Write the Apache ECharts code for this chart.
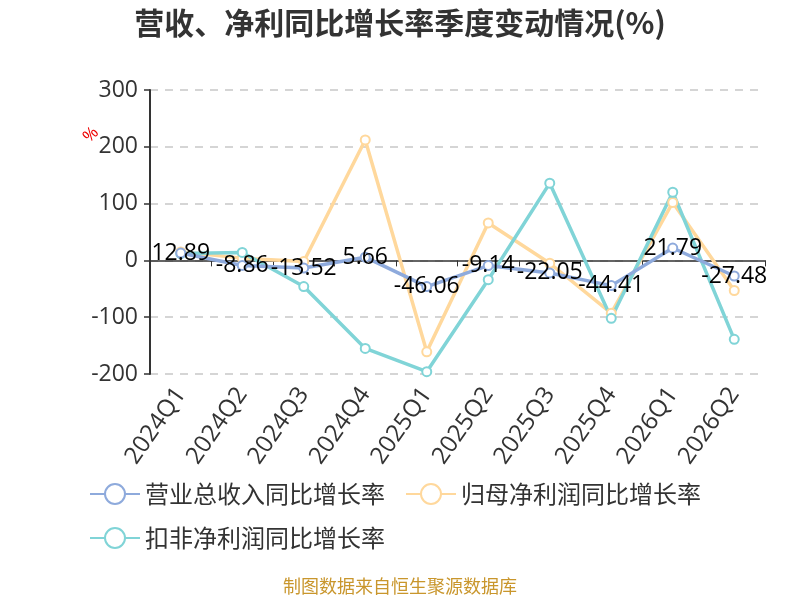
<!DOCTYPE html>
<html>
<head>
<meta charset="utf-8">
<style>
    html, body { margin: 0; padding: 0; background: #fff; }
    #chart { width: 800px; height: 600px; }
</style>
<script src="https://cdn.jsdelivr.net/npm/echarts@6/dist/echarts.min.js"></script>
</head>
<body>
<div id="chart"></div>
<script>
"use strict"

// 季度
var quarters = ["2024Q1", "2024Q2", "2024Q3", "2024Q4", "2025Q1", "2025Q2", "2025Q3", "2025Q4", "2026Q1", "2026Q2"];
// 营业总收入同比增长率
var revenueYoy = [12.89, -8.86, -13.52, 5.66, -46.06, -9.14, -22.05, -44.41, 21.79, -27.48];
// 归母净利润同比增长率
var netProfitYoy = [15, 4, -2, 212, -161, 66, -5, -93, 102, -53];
// 扣非净利润同比增长率
var deductedYoy = [12, 14, -46, -155, -196, -34, 136, -102, 120, -139];
// y轴刻度
var yMin = -200, yMax = 300, yStep = 100;

var seriesNames = ["营业总收入同比增长率", "归母净利润同比增长率", "扣非净利润同比增长率"];
var colors = ["#8eaadc", "#ffd89c", "#80d4d7"];
var font = "'Open Sans', 'Noto Sans CJK SC', sans-serif";

var myChart = echarts.init(document.getElementById("chart"));

function lineSeries(name, data, color, withLabel) {
    return {
        name: name,
        type: "line",
        data: data,
        symbol: "emptyCircle",
        symbolSize: 9,
        lineStyle: { color: color, width: 3.5 },
        itemStyle: { color: color, borderWidth: 1.5 },
        label: {
            show: withLabel,
            position: "inside",
            color: "#000",
            fontSize: 23,
            fontFamily: font
        },
        z: withLabel ? 5 : 3
    };
}

var option = {
    backgroundColor: "#fff",
    color: colors,
    title: {
        text: "营收、净利同比增长率季度变动情况(%)",
        left: "center",
        top: 3,
        textStyle: { color: "#333", fontSize: 30, fontWeight: "bold", fontFamily: "'Noto Sans CJK SC', sans-serif" }
    },
    legend: {
        data: seriesNames,
        left: 84,
        top: 477,
        width: 660,
        itemWidth: 50,
        itemHeight: 25,
        itemGap: 20,
        textStyle: { color: "#333", fontSize: 24, fontFamily: "'Noto Sans CJK SC', sans-serif" }
    },
    grid: { left: 150, right: 35, top: 90, bottom: 226 },
    xAxis: [{
        type: "category",
        data: quarters,
        position: "bottom",
        axisLine: { show: false, onZero: false },
        axisTick: { show: false },
        axisLabel: { rotate: 55, color: "#333", fontSize: 24, margin: 16, fontFamily: font }
    }, {
        type: "category",
        data: quarters,
        position: "bottom",
        axisLine: { show: true, onZero: true, lineStyle: { color: "#333", width: 1.5 } },
        axisTick: { show: true, length: 6, lineStyle: { color: "#333" } },
        axisLabel: { show: false }
    }],
    yAxis: {
        type: "value",
        min: yMin,
        max: yMax,
        interval: yStep,
        axisLine: { show: true, lineStyle: { color: "#333", width: 2 } },
        axisTick: { show: true, length: 6, lineStyle: { color: "#333", width: 1.5 } },
        axisLabel: { color: "#333", fontSize: 23, margin: 12, fontFamily: font },
        splitLine: { lineStyle: { color: "#c8c8c8", type: [8, 7], width: 1.5 } }
    },
    graphic: [{
        type: "text",
        left: 80,
        top: 124,
        rotation: Math.PI / 4,
        style: { text: "%", fill: "#e00", fontSize: 17, fontFamily: font }
    }, {
        type: "text",
        left: "center",
        top: 577,
        style: { text: "制图数据来自恒生聚源数据库", fill: "#c9962c", fontSize: 18, fontFamily: "'Noto Sans CJK SC', sans-serif" }
    }],
    series: [
        lineSeries(seriesNames[0], revenueYoy, colors[0], true),
        lineSeries(seriesNames[1], netProfitYoy, colors[1], false),
        lineSeries(seriesNames[2], deductedYoy, colors[2], false)
    ]
};

option && myChart.setOption(option);
</script>
</body>
</html>
